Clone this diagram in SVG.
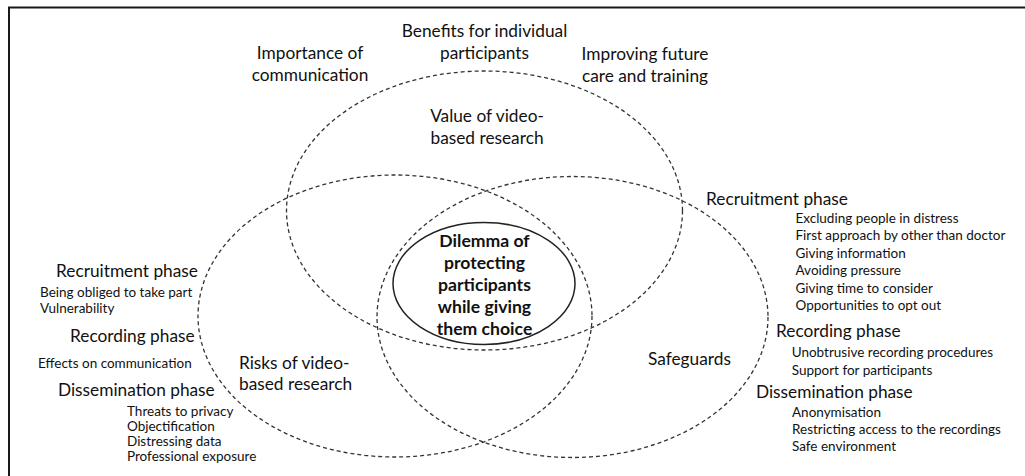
<svg xmlns="http://www.w3.org/2000/svg" width="1025" height="476" viewBox="0 0 1025 476">
<style>
.bg{fill:#ffffff}
.frame{fill:none;stroke:#1a1a1a;stroke-width:2}
.dash{fill:none;stroke:#333333;stroke-width:1.3;stroke-dasharray:4 3}
.solid{fill:none;stroke:#222222;stroke-width:1.5}
text{font-family:Lato,"Open Sans","Liberation Sans",sans-serif;fill:#111111}
.lg{font-size:17.3px}
.sm{font-size:13.5px}
.bd{font-size:17.6px;font-weight:bold}
.mid{text-anchor:middle}
</style>
<rect class="bg" x="0" y="0" width="1025" height="476"/>
<rect class="frame" x="9" y="7.5" width="1040" height="490"/>
<g id="connectors"></g>
<g id="value">
<ellipse class="dash" cx="484.5" cy="210.5" rx="198" ry="139.5"/>
<text class="lg mid" x="487" y="122">Value of video-</text>
<text class="lg mid" x="487" y="143.5">based research</text>
<text class="lg mid" x="310" y="59">Importance of</text>
<text class="lg mid" x="310" y="81">communication</text>
<text class="lg mid" x="484.5" y="36.5">Benefits for individual</text>
<text class="lg mid" x="484.5" y="58.5">participants</text>
<text class="lg mid" x="645" y="60">Improving future</text>
<text class="lg mid" x="645" y="82">care and training</text>
</g>
<g id="risks">
<ellipse class="dash" cx="395" cy="316" rx="197" ry="141"/>
<text class="lg" x="239" y="368.5">Risks of video-</text>
<text class="lg" x="239" y="390">based research</text>
<text class="lg" x="56" y="276.7">Recruitment phase</text>
<text class="sm" x="40" y="296.7">Being obliged to take part</text>
<text class="sm" x="40" y="313.3">Vulnerability</text>
<text class="lg" x="70" y="341.7">Recording phase</text>
<text class="sm" x="38" y="368.3">Effects on communication</text>
<text class="lg" x="58" y="396">Dissemination phase</text>
<text class="sm" x="127" y="415.7">Threats to privacy</text>
<text class="sm" x="127" y="430.7">Objectification</text>
<text class="sm" x="127" y="446">Distressing data</text>
<text class="sm" x="127" y="461">Professional exposure</text>
</g>
<g id="safeguards">
<ellipse class="dash" cx="572.5" cy="317" rx="195.5" ry="140.5"/>
<text class="lg" x="648" y="365">Safeguards</text>
<text class="lg" x="706" y="205">Recruitment phase</text>
<text class="sm" x="795.5" y="222.7">Excluding people in distress</text>
<text class="sm" x="795.5" y="240">First approach by other than doctor</text>
<text class="sm" x="795.5" y="257.7">Giving information</text>
<text class="sm" x="795.5" y="275.3">Avoiding pressure</text>
<text class="sm" x="795.5" y="292.7">Giving time to consider</text>
<text class="sm" x="795.5" y="310">Opportunities to opt out</text>
<text class="lg" x="776" y="336.7">Recording phase</text>
<text class="sm" x="791.7" y="357.3">Unobtrusive recording procedures</text>
<text class="sm" x="791.7" y="375">Support for participants</text>
<text class="lg" x="756" y="398.3">Dissemination phase</text>
<text class="sm" x="792" y="416.7">Anonymisation</text>
<text class="sm" x="792" y="434.3">Restricting access to the recordings</text>
<text class="sm" x="792" y="451">Safe environment</text>
</g>
<g id="dilemma">
<ellipse class="solid" cx="484" cy="283.5" rx="91" ry="61"/>
<text class="bd mid" x="484.5" y="247">Dilemma of</text>
<text class="bd mid" x="484.5" y="269">protecting</text>
<text class="bd mid" x="484.5" y="291">participants</text>
<text class="bd mid" x="484.5" y="313">while giving</text>
<text class="bd mid" x="484.5" y="335">them choice</text>
</g>
</svg>
